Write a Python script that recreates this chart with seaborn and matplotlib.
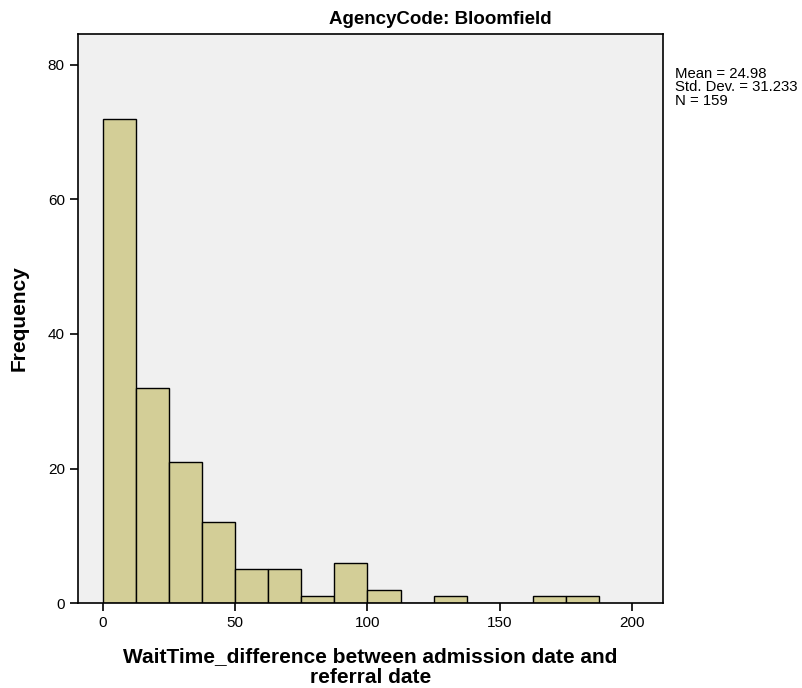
import matplotlib
matplotlib.use("Agg")
import matplotlib.pyplot as plt
import seaborn as sns
import numpy as np
import pandas as pd

bin_edges = [0, 12.5, 25, 37.5, 50, 62.5, 75, 87.5, 100, 112.5, 125, 137.5, 150, 162.5, 175, 187.5]
counts = [72, 32, 21, 12, 5, 5, 1, 6, 2, 0, 1, 0, 0, 1, 1]
stats_text = ["Mean = 24.98", "Std. Dev. = 31.233", "N = 159"]
title = "AgencyCode: Bloomfield"
xlabel = "WaitTime_difference between admission date and\nreferral date"
ylabel = "Frequency"

sns.set_style("ticks")
plt.rcParams['font.family'] = ['Liberation Sans', 'DejaVu Sans']
plt.rcParams['text.color'] = 'black'
plt.rcParams['axes.labelcolor'] = 'black'

centers = [(bin_edges[i] + bin_edges[i + 1]) / 2 for i in range(len(counts))]
df = pd.DataFrame({"x": centers, "w": counts})

fig = plt.figure(figsize=(8.03, 6.88), dpi=100)
ax = fig.add_axes([0.0971, 0.1235, 0.7286, 0.8271])
ax.set_facecolor("#F0F0F0")
sns.histplot(data=df, x="x", weights="w", bins=bin_edges, ax=ax,
             color="#D3CE97", edgecolor="black", linewidth=1.0, alpha=1.0)
ax.set_xlim(-9.4, 211.7)
ax.set_ylim(0, 84.6)
ax.set_xticks([0, 50, 100, 150, 200])
ax.set_yticks([0, 20, 40, 60, 80])
ax.tick_params(axis="both", direction="out", length=6, width=1.2, labelsize=11, colors="black")
for s in ax.spines.values():
    s.set_linewidth(1.2)
    s.set_color("black")
ax.set_xlabel(xlabel, fontsize=15, fontweight="bold", labelpad=12, linespacing=1.12, color="black")
ax.set_ylabel(ylabel, fontsize=15, fontweight="bold", labelpad=14, color="black")
fig.text(0.548, 1 - 24 / 688, title, fontsize=13.5, fontweight="bold", ha="center", va="baseline", color="black")
fig.text(0.841, 0.903, "\n".join(stats_text), fontsize=10.7, va="top", ha="left", linespacing=0.95, color="black")
fig.savefig("out.png", dpi=100)
